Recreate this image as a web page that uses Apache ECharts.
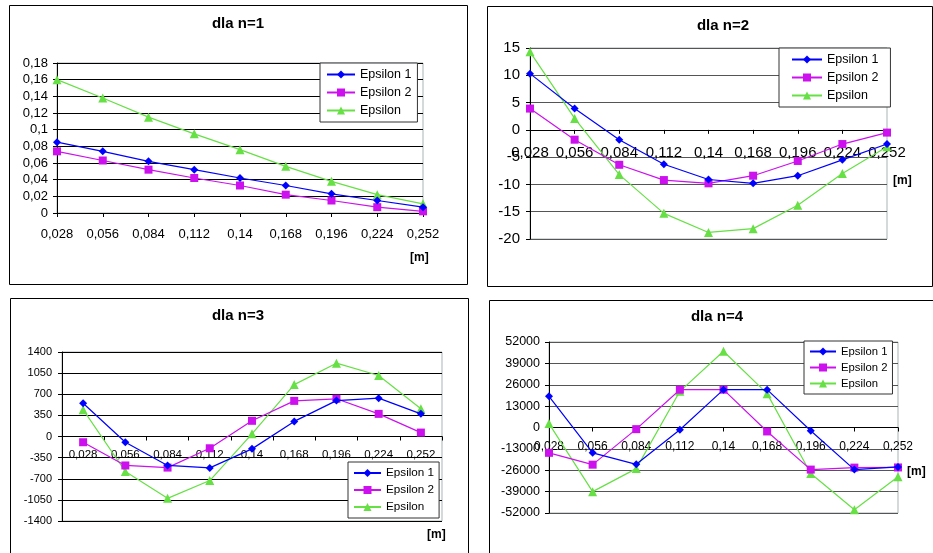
<!DOCTYPE html>
<html><head><meta charset="utf-8">
<script src="https://cdn.jsdelivr.net/npm/echarts@6/dist/echarts.min.js"></script>
<style>html,body{margin:0;padding:0;background:#fff}#c{width:933px;height:553px}</style>
</head><body><div id="c"></div>
<script>
// ---- data ----
const categories = ['0,028','0,056','0,084','0,112','0,14','0,168','0,196','0,224','0,252'];
const seriesNames = ['Epsilon 1','Epsilon 2','Epsilon'];
const titles = ['dla n=1','dla n=2','dla n=3','dla n=4'];

const n1Eps1 = [0.085, 0.074, 0.062, 0.052, 0.042, 0.033, 0.023, 0.015, 0.007];
const n1Eps2 = [0.074, 0.063, 0.052, 0.042, 0.033, 0.022, 0.015, 0.007, 0.002];
const n1Eps  = [0.160, 0.138, 0.115, 0.095, 0.076, 0.056, 0.038, 0.022, 0.011];

const n2Eps1 = [10.3, 3.9, -1.8, -6.3, -9.1, -9.8, -8.4, -5.5, -2.6];
const n2Eps2 = [3.9, -1.8, -6.4, -9.2, -9.8, -8.4, -5.7, -2.6, -0.5];
const n2Eps  = [14.3, 2.1, -8.2, -15.3, -18.8, -18.1, -13.8, -8.0, -3.1];

const n3Eps1 = [550, -95, -480, -520, -205, 250, 595, 635, 375];
const n3Eps2 = [-95, -480, -515, -195, 260, 590, 625, 375, 65];
const n3Eps  = [445, -580, -1025, -730, 45, 860, 1215, 1010, 460];

const n4Eps1 = [19000, -15400, -22400, -1400, 23000, 23000, -2000, -25600, -24000];
const n4Eps2 = [-15400, -22600, -1000, 23000, 23000, -2400, -25600, -24400, -24300];
const n4Eps  = [2400, -39000, -25000, 22000, 46400, 20600, -28000, -50000, -30000];

const yTicks = [
  {min: 0, max: 0.18, interval: 0.02},
  {min: -20, max: 15, interval: 5},
  {min: -1400, max: 1400, interval: 350},
  {min: -52000, max: 52000, interval: 13000}
];

// ---- layout / style ----
const colors = ['#0000ff', '#cc11ee', '#66e044'];
const symbols = ['diamond', 'rect', 'triangle'];
const symSizes = [8, 8, 9];
const FONT = 'Liberation Sans, Arial, sans-serif';

const panels = [
  {frame:[9,5,458,279], title:[238,16], grid:{left:57, top:63, width:366, height:150}, bGap:false,
   legend:{left:320, top:63, pad:[5,6,5,6], gap:5, iw:28, fs:12.5}, unit:[420,259], yFont:13, xFont:13, xMargin:15, yMargin:9,
   grid2:'#000', data:[n1Eps1,n1Eps2,n1Eps]},
  {frame:[487,6,445,280], title:[723,18], grid:{left:530, top:48, width:357, height:191}, bGap:false,
   legend:{left:779, top:48, pad:[5,12,5,12], gap:5, iw:30, fs:12.5}, unit:[903,182], yFont:15, xFont:15, xMargin:16, yMargin:10,
   grid2:'#555', data:[n2Eps1,n2Eps2,n2Eps]},
  {frame:[10,298,458,262], title:[238,308], grid:{left:62, top:352, width:380, height:169}, bGap:true,
   legend:{left:348, top:462, pad:[5,5,5,5], gap:5, iw:27, fs:11.7}, unit:[437,536], yFont:11, xFont:11.5, xMargin:12, yMargin:10,
   grid2:'#000', data:[n3Eps1,n3Eps2,n3Eps]},
  {frame:[489,300,450,260], title:[717,309], grid:{left:549, top:342, width:349, height:171}, bGap:false,
   legend:{left:804, top:341, pad:[5,5,5,5], gap:5, iw:26, fs:11.3}, unit:[917,473], yFont:12.5, xFont:12, xMargin:13, yMargin:9,
   grid2:'#555', data:[n4Eps1,n4Eps2,n4Eps]}
];

function fmtY(i) {
  return function (v) {
    if (i === 0) return parseFloat(v.toFixed(2)).toString().replace('.', ',');
    return String(Math.round(v));
  };
}

const option = {
  backgroundColor: '#fff',
  animation: false,
  title: [], legend: [], grid: [], xAxis: [], yAxis: [], series: [], graphic: []
};

panels.forEach((p, i) => {
  const yt = yTicks[i];
  // x axis sits on the value 0 line: shift it up from the grid bottom
  const zeroShift = p.grid.height * (0 - yt.min) / (yt.max - yt.min);
  option.graphic.push({type:'rect', shape:{x:p.frame[0]+0.5, y:p.frame[1]+0.5, width:p.frame[2], height:p.frame[3]},
    style:{fill:'none', stroke:'#000', lineWidth:1}, z:-1});
  option.graphic.push({type:'text', left:p.unit[0]-10, top:p.unit[1]-7,
    style:{text:'[m]', font:'bold 12px ' + FONT, fill:'#000'}});
  option.title.push({text: titles[i], left: p.title[0], top: p.title[1], textAlign: 'center', padding:0,
    textStyle:{fontFamily: FONT, fontSize: 15, fontWeight:'bold', color:'#000'}});
  option.grid.push(Object.assign({show:true, borderColor:'#a9b5b5', borderWidth:1, backgroundColor:'#fff'}, p.grid));
  option.legend.push({left:p.legend.left, top:p.legend.top, orient:'vertical', data: seriesNames,
    backgroundColor:'#fff', borderColor:'#333', borderWidth:1, padding:p.legend.pad, itemGap:p.legend.gap,
    itemWidth:p.legend.iw, itemHeight:10, selectedMode:false,
    textStyle:{fontFamily: FONT, fontSize: p.legend.fs, color:'#000'}});
  option.xAxis.push({type:'category', gridIndex:i, data: categories, boundaryGap: p.bGap,
    offset: -zeroShift,
    axisLine:{show:true, onZero:false, lineStyle:{color:'#000'}},
    axisTick:{show:true, inside:false, length:4, lineStyle:{color:'#000'}},
    axisLabel:{fontFamily: FONT, fontSize: p.xFont, color:'#000', margin: p.xMargin, interval:0},
    splitLine:{show:false}});
  option.yAxis.push({type:'value', gridIndex:i, min:yt.min, max:yt.max, interval:yt.interval,
    axisLine:{show:true, lineStyle:{color:'#000'}},
    axisTick:{show:true, length:4, lineStyle:{color:'#000'}},
    axisLabel:{fontFamily: FONT, fontSize: p.yFont, color:'#000', margin:p.yMargin, formatter: fmtY(i)},
    splitLine:{show:true, lineStyle:{color:p.grid2, width:1}}});
  p.data.forEach((d, k) => {
    option.series.push({type:'line', name: seriesNames[k], xAxisIndex:i, yAxisIndex:i, data: d,
      symbol: symbols[k], symbolSize: symSizes[k], showAllSymbol: true,
      itemStyle:{color: colors[k]}, lineStyle:{color: colors[k], width:1.2}, z: 2 + (2-k)});
  });
});

const chart = echarts.init(document.getElementById('c'), null, {renderer:'canvas'});
chart.setOption(option);
</script>
</body></html>
